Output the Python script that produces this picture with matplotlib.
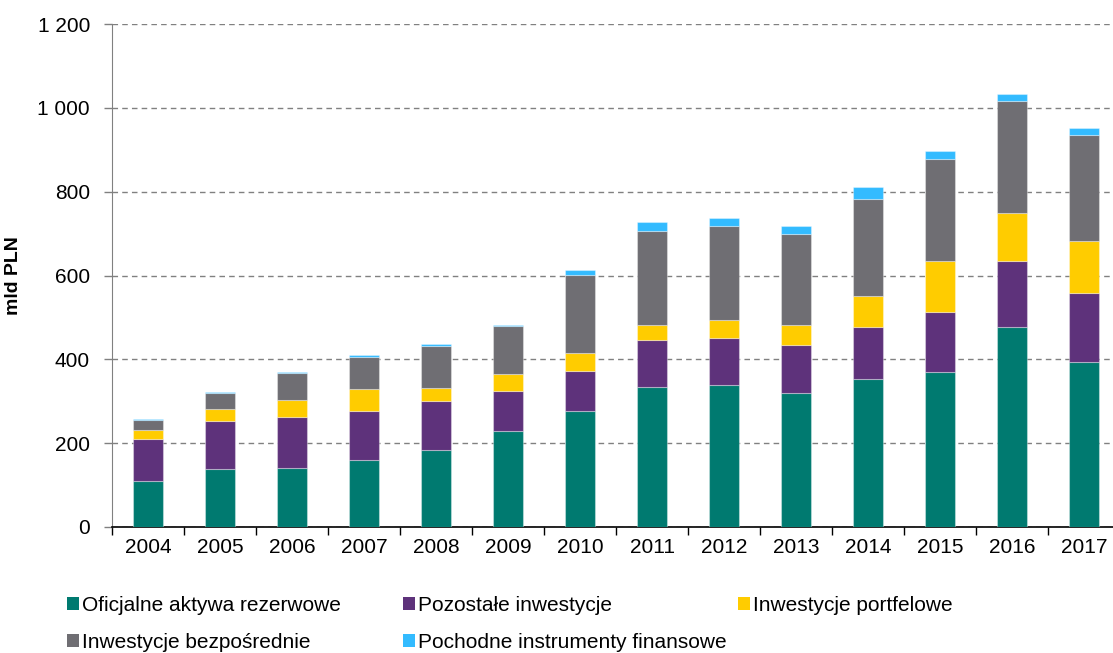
import matplotlib.pyplot as plt
from matplotlib.patches import Patch
from matplotlib.ticker import FuncFormatter
import numpy as np

plt.rcParams['font.family'] = ['Liberation Sans', 'DejaVu Sans']

# lata i wartosci (mld PLN)
lata = ['2004', '2005', '2006', '2007', '2008', '2009', '2010',
        '2011', '2012', '2013', '2014', '2015', '2016', '2017']
oficjalne = [110, 138, 141, 160, 184, 228, 277, 334, 338, 319, 352, 370, 477, 394]
pozostale = [100, 115, 121, 116, 116, 96, 94, 111, 114, 115, 126, 142, 157, 164]
portfelowe = [21, 29, 41, 54, 31, 40, 44, 38, 41, 49, 72, 122, 115, 124]
bezposrednie = [25, 38, 64, 76, 100, 116, 187, 224, 224, 216, 232, 243, 267, 252]
pochodne = [1.5, 2, 2, 4, 6, 2, 11, 21, 19, 18, 28, 19, 16, 18]

serie = [
    ('Oficjalne aktywa rezerwowe', oficjalne, '#007A70'),
    ('Pozostałe inwestycje', pozostale, '#5E327B'),
    ('Inwestycje portfelowe', portfelowe, '#FFCC00'),
    ('Inwestycje bezpośrednie', bezposrednie, '#6F6E73'),
    ('Pochodne instrumenty finansowe', pochodne, '#33BBFF'),
]

fig = plt.figure(figsize=(11.13, 6.53), dpi=100)
ax = fig.add_axes([112.3 / 1113, 126 / 653, 1008 / 1113, 503 / 653])

x = np.arange(len(lata))
dol = np.zeros(len(lata))
uchwyty = {}
for nazwa, wartosci, kolor in serie:
    ax.bar(x, wartosci, bottom=dol, width=0.42, color=kolor,
           edgecolor=(1, 1, 1, 0.35), linewidth=0.8, zorder=3)
    dol += np.array(wartosci)
    uchwyty[nazwa] = Patch(facecolor=kolor, edgecolor='none')

ax.set_xlim(-0.5, len(lata) - 0.5)
ax.set_ylim(0, 1200)
ax.set_yticks(range(0, 1201, 200))
ax.yaxis.set_major_formatter(FuncFormatter(lambda v, p: f'{int(v):,}'.replace(',', ' ')))
ax.yaxis.grid(True, linestyle=(0, (4, 3)), color='#808080', linewidth=1, zorder=0)

ax.set_xticks(x)
ax.set_xticklabels(lata)
ax.set_xticks(np.arange(-0.5, len(lata), 1), minor=True)
ax.tick_params(axis='x', which='major', length=0, pad=8, labelsize=15)
ax.tick_params(axis='x', which='minor', length=6, width=1, color='black')
ax.tick_params(axis='y', length=6, width=1, color='#808080', pad=10, labelsize=15)

ax.spines['top'].set_visible(False)
ax.spines['right'].set_visible(False)
ax.spines['left'].set_color('#808080')
ax.spines['bottom'].set_color('black')
ax.spines['bottom'].set_linewidth(1.2)

ax.set_ylabel('mld PLN', fontsize=14, fontweight='bold')
ax.yaxis.set_label_coords((22 - 112.3) / 1008, 0.5)

# legenda w trzech kolumnach
kolumny = [
    (67, ['Oficjalne aktywa rezerwowe', 'Inwestycje bezpośrednie']),
    (403, ['Pozostałe inwestycje', 'Pochodne instrumenty finansowe']),
    (738, ['Inwestycje portfelowe']),
]
for xpos, nazwy in kolumny:
    fig.legend([uchwyty[n] for n in nazwy], nazwy, loc='upper left',
               bbox_to_anchor=(xpos / 1113, 1 - 596 / 653),
               frameon=False, fontsize=15, handlelength=0.58, handleheight=0.58,
               handletextpad=0.15, borderpad=0, borderaxespad=0, labelspacing=0.85)

fig.savefig('out.png', dpi=100)
